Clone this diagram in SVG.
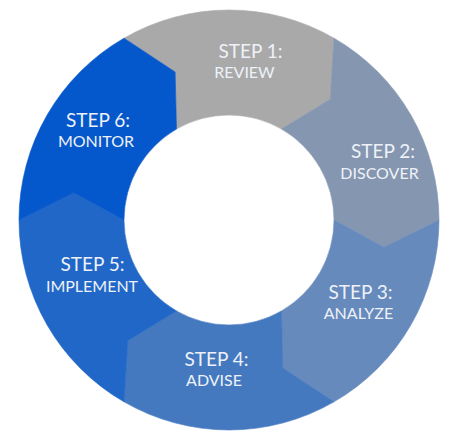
<svg xmlns="http://www.w3.org/2000/svg" width="450" height="444" viewBox="0 0 450 444">
  <style>
    .seg { stroke-width: 0.6; stroke-linejoin: round; }
    .t1 { font-family: Lato, "Open Sans", "Liberation Sans", sans-serif; font-size: 19px; fill: #eef2f8; text-anchor: middle; }
    .t2 { font-family: Lato, "Open Sans", "Liberation Sans", sans-serif; font-size: 16px; fill: #eef2f8; text-anchor: middle; }
  </style>
  <rect width="450" height="444" fill="#ffffff"/>
  <g id="connectors"/>
  <g id="step1">
    <path class="seg" fill="#a9a9a9" stroke="#a9a9a9" d="M124,38.13 A210,210 0 0 1 334,38.13 L330.24,99.35 L281.5,129.07 A105,105 0 0 0 176.5,129.07 L175.13,72 Z"/>
    <text class="t1" x="250.5" y="58">STEP 1:</text>
    <text class="t2" x="244.5" y="77.5">REVIEW</text>
  </g>
  <g id="step2">
    <path class="seg" fill="#8597b0" stroke="#8597b0" d="M334,38.13 A210,210 0 0 1 439,220 L384.11,247.34 L334,220 A105,105 0 0 0 281.5,129.07 L330.24,99.35 Z"/>
    <text class="t1" x="383" y="158">STEP 2:</text>
    <text class="t2" x="379.5" y="179">DISCOVER</text>
  </g>
  <g id="step3">
    <path class="seg" fill="#678abd" stroke="#678abd" d="M439,220 A210,210 0 0 1 334,401.87 L282.87,368 L281.5,310.93 A105,105 0 0 0 334,220 L384.11,247.34 Z"/>
    <text class="t1" x="360.5" y="299">STEP 3:</text>
    <text class="t2" x="358.5" y="318.5">ANALYZE</text>
  </g>
  <g id="step4">
    <path class="seg" fill="#4479c0" stroke="#4479c0" d="M334,401.87 A210,210 0 0 1 124,401.87 L127.76,340.65 L176.5,310.93 A105,105 0 0 0 281.5,310.93 L282.87,368 Z"/>
    <text class="t1" x="216.5" y="366">STEP 4:</text>
    <text class="t2" x="214" y="385.5">ADVISE</text>
  </g>
  <g id="step5">
    <path class="seg" fill="#2067c8" stroke="#2067c8" d="M124,401.87 A210,210 0 0 1 19,220 L73.89,192.66 L124,220 A105,105 0 0 0 176.5,310.93 L127.76,340.65 Z"/>
    <text class="t1" x="92.5" y="271">STEP 5:</text>
    <text class="t2" x="92" y="292">IMPLEMENT</text>
  </g>
  <g id="step6">
    <path class="seg" fill="#0558cb" stroke="#0558cb" d="M19,220 A210,210 0 0 1 124,38.13 L175.13,72 L176.5,129.07 A105,105 0 0 0 124,220 L73.89,192.66 Z"/>
    <text class="t1" x="98" y="127">STEP 6:</text>
    <text class="t2" x="96" y="147">MONITOR</text>
  </g>
</svg>
